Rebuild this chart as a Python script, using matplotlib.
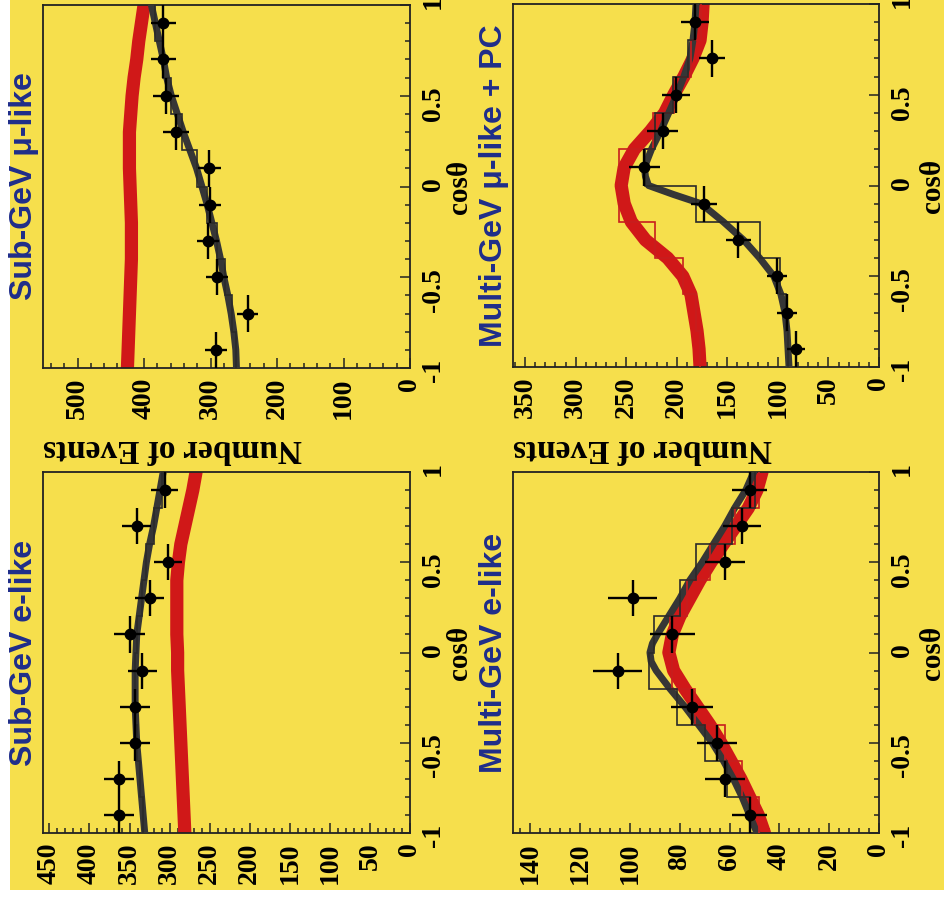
import numpy as np
import matplotlib.pyplot as plt
import matplotlib.transforms as mtransforms
from matplotlib.patches import Rectangle
from matplotlib.ticker import FixedLocator, MultipleLocator

# === Canvas / style ===
W, H = 945, 899
YELLOW = '#f6df4c'
NAVY = '#1f2d8a'
RED = '#d01818'
DARK = '#363636'
SERIF = 'Liberation Serif'
SANS = 'Liberation Sans'

# === Binning in zenith angle ===
cos_edges = [-1.0, -0.8, -0.6, -0.4, -0.2, 0.0, 0.2, 0.4, 0.6, 0.8, 1.0]
cos_centres = [-0.9, -0.7, -0.5, -0.3, -0.1, 0.1, 0.3, 0.5, 0.7, 0.9]
cos_grid = [-1.0, -0.9, -0.8, -0.7, -0.6, -0.5, -0.4, -0.3, -0.2, -0.1, 0.0,
            0.1, 0.2, 0.3, 0.4, 0.5, 0.6, 0.7, 0.8, 0.9, 1.0]

# === Sub-GeV e-like ===
sge_data = [363, 363, 343, 343, 334, 350, 325, 302, 341, 306]
sge_err = [19, 19, 19, 19, 18, 19, 18, 17, 18, 17]
sge_fit = [331, 333, 335, 337, 339, 341, 342, 343, 343, 343, 342,
           341, 338, 335, 332, 329, 325, 320, 316, 312, 308]
sge_noosc = [281, 282, 283, 284, 285, 286, 287, 288, 289, 290, 290,
             291, 291, 291, 291, 289, 286, 281, 276, 271, 267]
sge_mc = [333, 337, 341, 343, 343, 341, 335, 329, 320, 310]

# === Sub-GeV mu-like ===
sgm_data = [292, 244, 290, 304, 301, 302, 352, 367, 371, 371]
sgm_err = [17, 16, 17, 17, 17, 17, 19, 19, 19, 19]
sgm_fit = [261, 262, 265, 269, 274, 280, 285, 291, 298, 305, 313,
           321, 331, 341, 350, 359, 366, 371, 377, 383, 389]
sgm_noosc = [425, 424, 423, 422, 421, 420, 419, 419, 419, 420, 421,
             422, 422, 422, 420, 418, 415, 411, 408, 404, 400]
sgm_mc = [262, 267, 279, 290, 305, 320, 343, 360, 371, 384]

# === Multi-GeV e-like ===
mge_data = [52, 62, 65, 75, 105, 83, 99, 62, 55, 52]
mge_err = [7, 8, 8, 8.5, 10, 9, 10, 8, 7.5, 7]
mge_fit_cos = [-1.0, -0.9, -0.8, -0.7, -0.6, -0.5, -0.4, -0.3, -0.2, -0.1, -0.05,
               0.0, 0.05, 0.1, 0.2, 0.3, 0.4, 0.5, 0.6, 0.7, 0.8, 0.9, 1.0]
mge_fit = [49, 52, 55, 58.5, 62.5, 67, 72.5, 78, 84, 89.5, 91.5,
           92, 91, 89, 84.5, 80, 76, 71, 66.5, 62, 58, 53.5, 50.3]
mge_noosc = [46, 48.5, 52, 55.5, 59.5, 63.5, 68, 73, 78, 82.5, 84.4,
             83, 80, 76, 72, 67.5, 62.5, 57.5, 52.5, 49, 47]
mge_mc = [52, 61, 70, 81, 92.5, 90.5, 80, 73.7, 59, 50]
mge_mc_noosc = [48, 55, 62, 74, 83, 84, 77, 68, 58, 48]

# === Multi-GeV mu-like + PC ===
mgm_data = [82, 91, 101, 139, 173, 232, 214, 201, 165, 182]
mgm_err = [9, 9.5, 10, 12, 13, 15, 15, 14, 13, 13.5]
mgm_fit_cos = [-1.0, -0.9, -0.8, -0.7, -0.6, -0.5, -0.4, -0.3, -0.2, -0.1, -0.05,
               0.0, 0.05, 0.1, 0.2, 0.3, 0.4, 0.5, 0.6, 0.7, 0.8, 0.9, 1.0]
mgm_fit = [89, 90, 91, 93, 97, 104, 118, 134, 154, 176, 203,
           228, 231, 232, 225, 216, 208, 200, 193, 187, 184, 182, 181]
mgm_noosc = [177, 178, 180, 183, 186, 194, 209, 231, 245, 252, 255,
             252, 242, 226, 212, 203, 193, 184, 177, 175, 174]
mgm_mc = [90, 92, 98, 118, 181, 231, 222, 204, 189, 182]
mgm_mc_noosc = [177, 181, 194, 222, 257, 257, 224, 203, 186, 176]


def px_rect(x0, y0, x1, y1):
    return [x0 / W, 1 - y1 / H, (x1 - x0) / W, (y1 - y0) / H]


def draw_panel(fig, box, title, vmax, major, vtop, data, err, fit_cos, fit,
               noosc, mc, mc_noosc=None, events_label=True):
    ax = fig.add_axes(px_rect(*box))
    ax.set_facecolor(YELLOW)

    # number of events runs right-to-left, zenith angle runs bottom-to-top
    ax.plot(noosc, cos_grid, color=RED, lw=9.5, solid_capstyle='round',
            solid_joinstyle='round', zorder=2)
    ax.plot(fit, fit_cos, color=DARK, lw=5, solid_capstyle='round',
            solid_joinstyle='round', zorder=3)
    if mc_noosc is not None:
        ax.stairs(mc_noosc, cos_edges, orientation='horizontal', baseline=None,
                  color='#c81e1e', lw=1.2, zorder=4)
    ax.stairs(mc, cos_edges, orientation='horizontal', baseline=None,
              color='#2a2a2a', lw=1.2, zorder=4)
    ax.errorbar(data, cos_centres, xerr=err, yerr=0.1, fmt='o', color='black',
                ms=7.5, elinewidth=1.7, capsize=0, zorder=5)

    ax.set_xlim(vmax, 0)
    ax.set_ylim(-1, 1)

    vticks = list(range(0, vtop + 1, major))
    ax.xaxis.set_major_locator(FixedLocator(vticks))
    ax.set_xticklabels([str(v) for v in vticks])
    ax.xaxis.set_minor_locator(MultipleLocator(major / 5))
    ax.yaxis.set_major_locator(FixedLocator([-1, -0.5, 0, 0.5, 1]))
    ax.set_yticklabels(['-1', '-0.5', '0', '0.5', '1'])
    ax.yaxis.set_minor_locator(MultipleLocator(0.1))

    ax.tick_params(which='both', direction='in', top=False, left=False,
                   bottom=True, right=True, labelbottom=True, labelleft=False,
                   labelright=True, color='#222222', width=1.1)
    ax.tick_params(which='major', length=7)
    ax.tick_params(which='minor', length=3.5)
    ax.tick_params(axis='x', labelrotation=90, pad=7)
    ax.tick_params(axis='y', labelrotation=90, pad=8)
    for lab in ax.get_xticklabels() + ax.get_yticklabels():
        lab.set_fontfamily(SERIF)
        lab.set_fontweight('bold')
        lab.set_fontsize(20)

    for sp in ax.spines.values():
        sp.set_color('#222222')
        sp.set_linewidth(1.3)

    x0, y0, x1, y1 = box
    ymid = 1 - 0.5 * (y0 + y1) / H
    # panel title, read bottom to top along the left side
    tx = 24 if x0 < 300 else 494
    fig.text(tx / W, ymid, title, rotation=90, ha='center', va='center',
             color=NAVY, fontfamily=SANS, fontweight='bold', fontsize=23)
    # zenith angle label on the right
    cx = 460 if x0 < 300 else 933
    fig.text(cx / W, ymid, 'cos\u03b8', rotation=90, ha='center', va='center',
             fontfamily=SERIF, fontweight='bold', fontsize=21)
    if events_label:
        tr = mtransforms.blended_transform_factory(ax.transAxes, fig.transFigure)
        ax.text(0, 1 - 448 / H, 'Number of Events', transform=tr, rotation=180,
                ha='left', va='center', fontfamily=SERIF, fontweight='bold',
                fontsize=24)
    return ax


fig = plt.figure(figsize=(W / 100, H / 100), dpi=100, facecolor='white')
fig.patches.append(Rectangle((10 / W, 9 / H), 1, 1, transform=fig.transFigure,
                             facecolor=YELLOW, edgecolor='none', zorder=-10))

draw_panel(fig, (43, 5, 410, 368), 'Sub-GeV \u03bc-like', 552, 100, 500,
           sgm_data, sgm_err, cos_grid, sgm_fit, sgm_noosc, sgm_mc)
draw_panel(fig, (43, 472, 410, 833), 'Sub-GeV e-like', 458, 50, 450,
           sge_data, sge_err, cos_grid, sge_fit, sge_noosc, sge_mc,
           events_label=False)
draw_panel(fig, (513, 4, 879, 367), 'Multi-GeV \u03bc-like + PC', 362, 50, 350,
           mgm_data, mgm_err, mgm_fit_cos, mgm_fit, mgm_noosc, mgm_mc,
           mc_noosc=mgm_mc_noosc)
draw_panel(fig, (513, 472, 879, 833), 'Multi-GeV e-like', 147, 20, 140,
           mge_data, mge_err, mge_fit_cos, mge_fit, mge_noosc, mge_mc,
           mc_noosc=mge_mc_noosc, events_label=False)

fig.savefig('out.png', dpi=100, facecolor=fig.get_facecolor())
